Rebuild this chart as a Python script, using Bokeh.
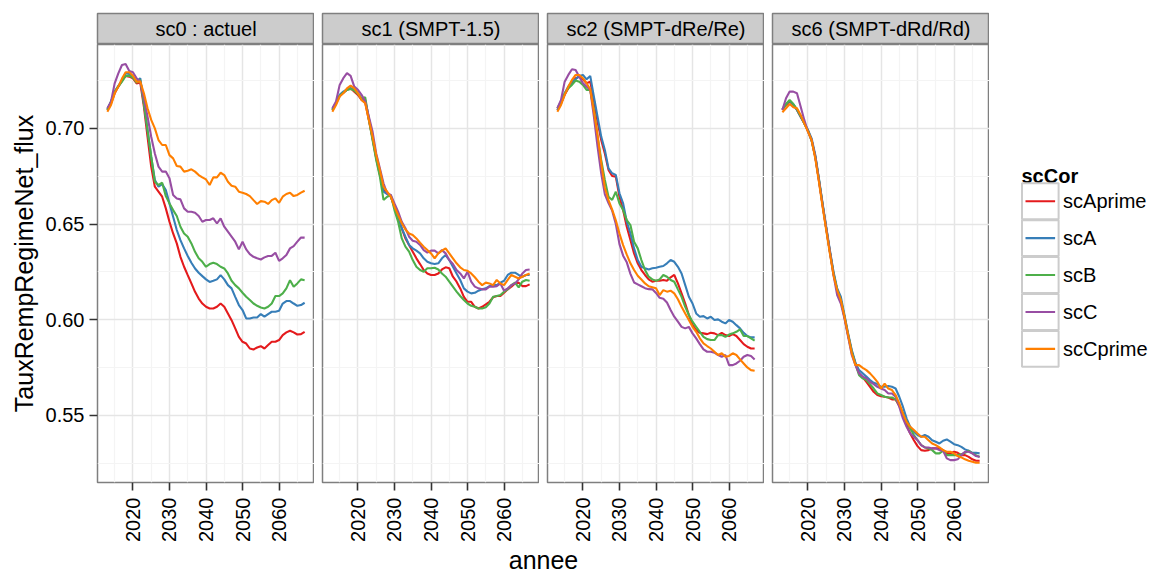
from math import pi
from bokeh.plotting import figure
from bokeh.layouts import row, column
from bokeh.models import Range1d, FixedTicker, ColumnDataSource, NumeralTickFormatter
from bokeh.core.properties import value
from bokeh.embed import file_html
from bokeh.resources import INLINE

# ---------------- data ----------------
years = list(range(2013, 2068))
series_names = ["scAprime", "scA", "scB", "scC", "scCprime"]
series_colors = ["#E41A1C", "#377EB8", "#4DAF4A", "#984EA3", "#FF7F00"]
panel_titles = ["sc0 : actuel", "sc1 (SMPT-1.5)", "sc2 (SMPT-dRe/Re)", "sc6 (SMPT-dRd/Rd)"]
x_ticks = [2020, 2030, 2040, 2050, 2060]
x_minor = [2015, 2025, 2035, 2045, 2055, 2065]
y_ticks = [0.55, 0.60, 0.65, 0.70]
y_minor = [0.525, 0.575, 0.625, 0.675, 0.725]

sc0_scAprime = [0.7096,0.7130,0.7183,0.7218,0.7249,0.7274,0.7270,0.7261,0.7235,0.7239,
                0.7113,0.6956,0.6800,0.6695,0.6669,0.6643,0.6582,0.6512,0.6451,0.6399,
                0.6329,0.6277,0.6233,0.6190,0.6146,0.6111,0.6085,0.6068,0.6059,0.6059,
                0.6068,0.6085,0.6068,0.6033,0.5998,0.5955,0.5911,0.5885,0.5876,0.5850,
                0.5845,0.5855,0.5862,0.5850,0.5868,0.5885,0.5885,0.5894,0.5920,0.5934,
                0.5943,0.5934,0.5923,0.5925,0.5937]
sc0_scA = [0.7100,0.7140,0.7192,0.7222,0.7249,0.7288,0.7284,0.7267,0.7244,0.7262,
           0.7131,0.6991,0.6852,0.6730,0.6695,0.6709,0.6678,0.6608,0.6538,0.6469,
           0.6416,0.6373,0.6333,0.6298,0.6268,0.6246,0.6228,0.6211,0.6198,0.6204,
           0.6211,0.6233,0.6211,0.6181,0.6164,0.6120,0.6077,0.6051,0.6007,0.6007,
           0.6012,0.6012,0.6030,0.6016,0.6030,0.6042,0.6042,0.6047,0.6085,0.6098,
           0.6098,0.6085,0.6073,0.6077,0.6089]
sc0_scB = [0.7096,0.7140,0.7192,0.7218,0.7244,0.7274,0.7275,0.7265,0.7239,0.7253,
           0.7131,0.6991,0.6852,0.6721,0.6704,0.6716,0.6646,0.6608,0.6573,0.6542,
           0.6486,0.6451,0.6434,0.6399,0.6355,0.6321,0.6303,0.6277,0.6291,0.6298,
           0.6291,0.6277,0.6268,0.6242,0.6204,0.6181,0.6164,0.6141,0.6120,0.6103,
           0.6085,0.6073,0.6064,0.6059,0.6068,0.6085,0.6124,0.6124,0.6138,0.6164,
           0.6207,0.6172,0.6190,0.6211,0.6207]
sc0_scC = [0.7105,0.7139,0.7235,0.7287,0.7331,0.7336,0.7300,0.7293,0.7261,0.7244,
           0.7157,0.7061,0.6956,0.6869,0.6800,0.6774,0.6774,0.6739,0.6652,0.6634,
           0.6629,0.6582,0.6564,0.6564,0.6559,0.6542,0.6512,0.6521,0.6521,0.6530,
           0.6503,0.6530,0.6486,0.6460,0.6434,0.6408,0.6368,0.6408,0.6368,0.6343,
           0.6329,0.6321,0.6315,0.6326,0.6333,0.6334,0.6350,0.6308,0.6321,0.6338,
           0.6373,0.6385,0.6408,0.6430,0.6429]
sc0_scCprime = [0.7087,0.7122,0.7183,0.7218,0.7260,0.7293,0.7293,0.7275,0.7244,0.7244,
                0.7183,0.7105,0.7044,0.7000,0.6939,0.6913,0.6913,0.6860,0.6843,0.6803,
                0.6800,0.6774,0.6779,0.6786,0.6774,0.6756,0.6744,0.6733,0.6704,0.6744,
                0.6744,0.6768,0.6756,0.6721,0.6700,0.6695,0.6669,0.6664,0.6657,0.6646,
                0.6625,0.6605,0.6620,0.6617,0.6605,0.6625,0.6634,0.6611,0.6643,0.6657,
                0.6664,0.6646,0.6652,0.6664,0.6674]

sc1_scAprime = [0.7096,0.7131,0.7169,0.7187,0.7201,0.7209,0.7192,0.7175,0.7148,0.7134,
                0.7044,0.6948,0.6844,0.6757,0.6678,0.6661,0.6643,0.6591,0.6539,0.6478,
                0.6425,0.6391,0.6356,0.6321,0.6291,0.6260,0.6242,0.6234,0.6234,0.6242,
                0.6263,0.6274,0.6269,0.6225,0.6199,0.6164,0.6120,0.6094,0.6094,0.6068,
                0.6059,0.6068,0.6080,0.6094,0.6117,0.6124,0.6124,0.6141,0.6159,0.6173,
                0.6190,0.6194,0.6176,0.6176,0.6185]
sc1_scA = [0.7100,0.7134,0.7175,0.7192,0.7204,0.7209,0.7201,0.7183,0.7152,0.7148,
           0.7053,0.6948,0.6852,0.6765,0.6669,0.6657,0.6643,0.6591,0.6539,0.6478,
           0.6434,0.6391,0.6373,0.6361,0.6347,0.6321,0.6303,0.6295,0.6291,0.6295,
           0.6321,0.6338,0.6312,0.6277,0.6242,0.6208,0.6164,0.6147,0.6138,0.6141,
           0.6152,0.6159,0.6164,0.6176,0.6181,0.6181,0.6194,0.6204,0.6234,0.6246,
           0.6246,0.6234,0.6225,0.6234,0.6234]
sc1_scB = [0.7096,0.7131,0.7169,0.7187,0.7201,0.7206,0.7197,0.7180,0.7157,0.7162,
           0.7044,0.6939,0.6835,0.6748,0.6626,0.6643,0.6652,0.6573,0.6512,0.6425,
           0.6382,0.6356,0.6312,0.6277,0.6260,0.6251,0.6269,0.6269,0.6272,0.6263,
           0.6242,0.6225,0.6199,0.6173,0.6147,0.6124,0.6103,0.6085,0.6073,0.6068,
           0.6059,0.6059,0.6065,0.6085,0.6120,0.6124,0.6129,0.6147,0.6159,0.6181,
           0.6194,0.6169,0.6199,0.6208,0.6204]
sc1_scC = [0.7105,0.7140,0.7227,0.7262,0.7288,0.7274,0.7218,0.7201,0.7175,0.7140,
           0.7061,0.6983,0.6869,0.6791,0.6713,0.6661,0.6652,0.6608,0.6565,0.6512,
           0.6478,0.6434,0.6413,0.6408,0.6391,0.6364,0.6351,0.6361,0.6361,0.6347,
           0.6364,0.6347,0.6312,0.6291,0.6260,0.6242,0.6216,0.6251,0.6199,0.6173,
           0.6164,0.6159,0.6159,0.6173,0.6173,0.6176,0.6190,0.6152,0.6164,0.6181,
           0.6190,0.6211,0.6242,0.6260,0.6263]
sc1_scCprime = [0.7087,0.7122,0.7166,0.7183,0.7209,0.7223,0.7209,0.7183,0.7148,0.7131,
                0.7044,0.6957,0.6861,0.6783,0.6696,0.6669,0.6643,0.6591,0.6547,0.6504,
                0.6472,0.6451,0.6443,0.6425,0.6403,0.6382,0.6364,0.6347,0.6321,0.6347,
                0.6361,0.6373,0.6347,0.6321,0.6295,0.6274,0.6260,0.6256,0.6242,0.6222,
                0.6199,0.6181,0.6194,0.6190,0.6181,0.6208,0.6190,0.6181,0.6208,0.6234,
                0.6225,0.6216,0.6225,0.6234,0.6242]

sc2_scAprime = [0.7096,0.7131,0.7175,0.7210,0.7236,0.7262,0.7270,0.7256,0.7236,0.7244,
                0.7148,0.7035,0.6939,0.6869,0.6783,0.6751,0.6748,0.6643,0.6573,0.6486,
                0.6417,0.6347,0.6295,0.6260,0.6234,0.6211,0.6199,0.6204,0.6204,0.6208,
                0.6204,0.6222,0.6234,0.6190,0.6138,0.6085,0.6025,0.5972,0.5946,0.5932,
                0.5929,0.5925,0.5932,0.5929,0.5920,0.5932,0.5920,0.5915,0.5925,0.5915,
                0.5894,0.5873,0.5859,0.5850,0.5850]
sc2_scA = [0.7096,0.7131,0.7183,0.7218,0.7244,0.7256,0.7274,0.7279,0.7256,0.7274,
           0.7166,0.7061,0.6957,0.6887,0.6791,0.6765,0.6757,0.6661,0.6608,0.6512,
           0.6451,0.6373,0.6312,0.6277,0.6269,0.6263,0.6269,0.6272,0.6277,0.6281,
           0.6295,0.6312,0.6303,0.6277,0.6242,0.6181,0.6120,0.6085,0.6033,0.6016,
           0.6019,0.6007,0.6016,0.5999,0.6002,0.5990,0.5981,0.5999,0.5990,0.5972,
           0.5955,0.5932,0.5915,0.5908,0.5908]
sc2_scB = [0.7105,0.7140,0.7183,0.7210,0.7227,0.7250,0.7244,0.7227,0.7201,0.7201,
           0.7096,0.6957,0.6835,0.6730,0.6643,0.6626,0.6669,0.6608,0.6573,0.6521,
           0.6495,0.6408,0.6373,0.6312,0.6260,0.6225,0.6211,0.6204,0.6211,0.6234,
           0.6225,0.6208,0.6199,0.6159,0.6120,0.6068,0.6025,0.5990,0.5963,0.5937,
           0.5911,0.5899,0.5894,0.5894,0.5920,0.5920,0.5911,0.5923,0.5929,0.5937,
           0.5950,0.5915,0.5915,0.5903,0.5891]
sc2_scC = [0.7105,0.7148,0.7244,0.7279,0.7309,0.7305,0.7270,0.7236,0.7218,0.7201,
           0.7061,0.6905,0.6765,0.6655,0.6610,0.6570,0.6500,0.6395,0.6335,0.6300,
           0.6240,0.6195,0.6185,0.6175,0.6165,0.6160,0.6159,0.6140,0.6115,0.6110,
           0.6090,0.6051,0.6016,0.5990,0.5963,0.5955,0.5963,0.5929,0.5903,0.5873,
           0.5845,0.5833,0.5833,0.5828,0.5816,0.5807,0.5816,0.5763,0.5763,0.5772,
           0.5786,0.5807,0.5816,0.5811,0.5793]
sc2_scCprime = [0.7087,0.7122,0.7175,0.7218,0.7253,0.7279,0.7279,0.7262,0.7236,0.7204,
                0.7087,0.6965,0.6820,0.6690,0.6625,0.6575,0.6520,0.6450,0.6390,0.6340,
                0.6295,0.6260,0.6230,0.6210,0.6190,0.6175,0.6170,0.6165,0.6129,0.6155,
                0.6147,0.6152,0.6138,0.6107,0.6068,0.6033,0.5999,0.5963,0.5937,0.5903,
                0.5877,0.5863,0.5850,0.5833,0.5816,0.5825,0.5807,0.5811,0.5825,0.5816,
                0.5793,0.5772,0.5751,0.5737,0.5734]

sc6_scAprime = [0.7096,0.7122,0.7140,0.7122,0.7096,0.7061,0.7026,0.6988,
                0.6939,0.6853,0.6730,0.6600,0.6478,0.6356,0.6242,0.6155,0.6103,0.6016,
                0.5920,0.5833,0.5772,0.5720,0.5699,0.5676,0.5650,0.5624,0.5607,0.5601,
                0.5598,0.5594,0.5584,0.5584,0.5549,0.5511,0.5450,0.5406,0.5371,0.5340,
                0.5319,0.5316,0.5319,0.5328,0.5328,0.5328,0.5319,0.5302,0.5302,0.5311,
                0.5305,0.5293,0.5293,0.5284,0.5271,0.5264,0.5264]
sc6_scA = [0.7100,0.7126,0.7143,0.7126,0.7096,0.7061,0.7026,0.6992,
           0.6948,0.6862,0.6739,0.6609,0.6487,0.6365,0.6251,0.6164,0.6121,0.6025,
           0.5929,0.5842,0.5776,0.5737,0.5720,0.5703,0.5685,0.5671,0.5664,0.5650,
           0.5650,0.5654,0.5650,0.5641,0.5598,0.5546,0.5485,0.5441,0.5415,0.5398,
           0.5389,0.5398,0.5389,0.5371,0.5363,0.5354,0.5368,0.5375,0.5363,0.5350,
           0.5345,0.5336,0.5323,0.5316,0.5305,0.5305,0.5302]
sc6_scB = [0.7100,0.7127,0.7148,0.7127,0.7100,0.7065,0.7026,0.6988,
           0.6935,0.6853,0.6735,0.6605,0.6478,0.6356,0.6242,0.6155,0.6103,0.6016,
           0.5920,0.5833,0.5768,0.5711,0.5694,0.5685,0.5664,0.5641,0.5615,0.5607,
           0.5598,0.5594,0.5594,0.5584,0.5554,0.5511,0.5467,0.5432,0.5398,0.5371,
           0.5345,0.5333,0.5328,0.5319,0.5302,0.5302,0.5316,0.5293,0.5293,0.5293,
           0.5293,0.5298,0.5305,0.5316,0.5302,0.5293,0.5284]
sc6_scC = [0.7096,0.7157,0.7192,0.7192,0.7183,0.7114,0.7044,0.6983,
           0.6939,0.6853,0.6730,0.6600,0.6478,0.6356,0.6233,0.6129,0.6085,0.6007,
           0.5911,0.5816,0.5763,0.5720,0.5703,0.5694,0.5676,0.5664,0.5650,0.5641,
           0.5633,0.5615,0.5615,0.5598,0.5546,0.5485,0.5441,0.5406,0.5389,0.5371,
           0.5345,0.5333,0.5333,0.5328,0.5328,0.5319,0.5316,0.5276,0.5267,0.5267,
           0.5271,0.5293,0.5311,0.5311,0.5302,0.5288,0.5284]
sc6_scCprime = [0.7084,0.7105,0.7127,0.7110,0.7105,0.7070,0.7026,0.6983,
                0.6939,0.6844,0.6722,0.6591,0.6469,0.6347,0.6233,0.6155,0.6103,0.6016,
                0.5920,0.5825,0.5763,0.5763,0.5749,0.5737,0.5720,0.5699,0.5676,0.5641,
                0.5667,0.5641,0.5633,0.5607,0.5563,0.5511,0.5467,0.5441,0.5424,0.5406,
                0.5389,0.5389,0.5371,0.5354,0.5345,0.5333,0.5319,0.5311,0.5311,0.5302,
                0.5288,0.5281,0.5271,0.5264,0.5258,0.5253,0.5253]

panels_data = [
    [sc0_scAprime, sc0_scA, sc0_scB, sc0_scC, sc0_scCprime],
    [sc1_scAprime, sc1_scA, sc1_scB, sc1_scC, sc1_scCprime],
    [sc2_scAprime, sc2_scA, sc2_scB, sc2_scC, sc2_scCprime],
    [sc6_scAprime, sc6_scA, sc6_scB, sc6_scC, sc6_scCprime],
]

# ---------------- style / layout ----------------
FONT = "Liberation Sans"
FRAME_W = 217
FRAME_H = 438
GAP = 8
LEFT = 97
BOTTOM = 70
STRIP_TOP = 13
STRIP_H = 31
OVERLAP = 8
AX_H = 574 - STRIP_TOP - STRIP_H - FRAME_H - BOTTOM + OVERLAP
X_START, X_END = 2010.3, 2069.7
Y_START, Y_END = 0.515, 0.7438
BORDER = "#7F7F7F"


def make_strip(i):
    lb = LEFT if i == 0 else GAP
    s = figure(frame_width=FRAME_W, frame_height=STRIP_H,
               min_border_left=lb, min_border_right=0,
               min_border_top=STRIP_TOP, min_border_bottom=0,
               x_range=Range1d(0, 1), y_range=Range1d(0, 1),
               x_axis_location=None, y_axis_location=None,
               output_backend="svg", toolbar_location=None)
    s.grid.visible = False
    s.background_fill_color = "#CCCCCC"
    s.border_fill_color = "white"
    s.outline_line_color = BORDER
    s.outline_line_width = 1.5
    s.text(x=[0.5], y=[0.5], text=[panel_titles[i]], text_align="center",
           text_baseline="middle", text_font=value(FONT),
           text_font_size="20px", text_color="#000000")
    return s


def make_panel(i):
    lb = LEFT if i == 0 else GAP
    p = figure(frame_width=FRAME_W, frame_height=FRAME_H,
               min_border_left=lb, min_border_right=0,
               min_border_top=0, min_border_bottom=BOTTOM,
               x_range=Range1d(X_START, X_END), y_range=Range1d(Y_START, Y_END),
               y_axis_location="left" if i == 0 else None,
               output_backend="svg", toolbar_location=None)
    p.background_fill_color = "white"
    p.border_fill_color = "white"
    p.outline_line_color = BORDER
    p.outline_line_width = 1.5

    xt = FixedTicker(ticks=x_ticks, minor_ticks=x_minor)
    yt = FixedTicker(ticks=y_ticks, minor_ticks=y_minor)
    for g, t in ((p.xgrid[0], xt), (p.ygrid[0], yt)):
        g.ticker = t
        g.grid_line_color = "#E5E5E5"
        g.grid_line_width = 1.5
        g.minor_grid_line_color = "#F4F4F4"
        g.minor_grid_line_width = 1.2

    axes = list(p.xaxis) + (list(p.yaxis) if i == 0 else [])
    for ax in axes:
        ax.axis_line_color = None
        ax.major_tick_line_color = "#333333"
        ax.major_tick_line_width = 1.6
        ax.major_tick_in = 0
        ax.major_tick_out = 8
        ax.minor_tick_line_color = None
        ax.major_label_text_font = FONT
        ax.major_label_text_font_size = "20px"
        ax.major_label_text_color = "#000000"
    xa = p.xaxis[0]
    xa.ticker = xt
    xa.major_label_orientation = pi / 2
    xa.major_label_standoff = 7
    if i == 0:
        ya = p.yaxis[0]
        ya.ticker = yt
        ya.formatter = NumeralTickFormatter(format="0.00")
        ya.major_label_standoff = 5
        ya.axis_label = "TauxRempRegimeNet_flux"
        ya.axis_label_text_font = FONT
        ya.axis_label_text_font_size = "25px"
        ya.axis_label_text_font_style = "normal"
        ya.axis_label_text_color = "#000000"
        ya.axis_label_standoff = 5

    src = ColumnDataSource(dict(annee=years, **{n: v for n, v in zip(series_names, panels_data[i])}))
    for name, col in zip(series_names, series_colors):
        p.line(x="annee", y=name, source=src, line_color=col, line_width=2.1)
    return p


strips = [make_strip(i) for i in range(4)]
panels = [make_panel(i) for i in range(4)]

# ---------------- legend (own small figure; frame aligned with the panels) ----------------
LEG_W = 164
leg = figure(frame_width=LEG_W, frame_height=FRAME_H,
             min_border_left=0, min_border_right=0, min_border_top=0, min_border_bottom=BOTTOM,
             x_range=Range1d(0, LEG_W), y_range=Range1d(FRAME_H, 0),
             x_axis_location=None, y_axis_location=None,
             output_backend="svg", toolbar_location=None)
leg.grid.visible = False
leg.outline_line_color = None
leg.background_fill_color = "white"
leg.border_fill_color = "white"
key_x0, key_w, key_h, key_top = 32, 37.6, 36.9, 138.3
leg.text(x=[key_x0], y=[key_top - 7], text=["scCor"], text_font=value(FONT),
         text_font_size="20px", text_font_style="bold", text_baseline="alphabetic",
         text_color="#000000")
n = len(series_names)
centers = [key_top + key_h * (k + 0.5) for k in range(n)]
leg.rect(x=[key_x0 + key_w / 2] * n, y=centers, width=key_w - 1, height=key_h - 1,
         fill_color="white", line_color="#CCCCCC", line_width=2)
leg.segment(x0=[key_x0 + 4] * n, y0=centers, x1=[key_x0 + key_w - 4] * n, y1=centers,
            line_color=series_colors, line_width=2.1)
leg.text(x=[key_x0 + key_w + 4] * n, y=centers, text=series_names, text_font=value(FONT),
         text_font_size="20px", text_baseline="middle", text_color="#000000")

# ---------------- x axis title (pulled up over the empty bottom of the panel row) ----------------
TOT_W = LEFT + FRAME_W + 3 * (GAP + FRAME_W) + LEG_W
xt_fig = figure(width=TOT_W, height=AX_H, min_border=0,
                x_range=Range1d(0, TOT_W), y_range=Range1d(AX_H, 0),
                x_axis_location=None, y_axis_location=None,
                output_backend="svg", toolbar_location=None,
                margin=(-OVERLAP, 0, 0, 0))
xt_fig.grid.visible = False
xt_fig.outline_line_color = None
xt_fig.background_fill_color = None
xt_fig.border_fill_color = None
panels_center = (LEFT + LEFT + FRAME_W + 3 * (GAP + FRAME_W)) / 2
xt_fig.text(x=[panels_center], y=[AX_H / 2], text=["annee"], text_align="center",
            text_baseline="middle", text_font=value(FONT), text_font_size="25px",
            text_color="#000000")

layout = column(row(*strips), row(*panels, leg), xt_fig)

open("out.html", "w").write(file_html(layout, INLINE))
